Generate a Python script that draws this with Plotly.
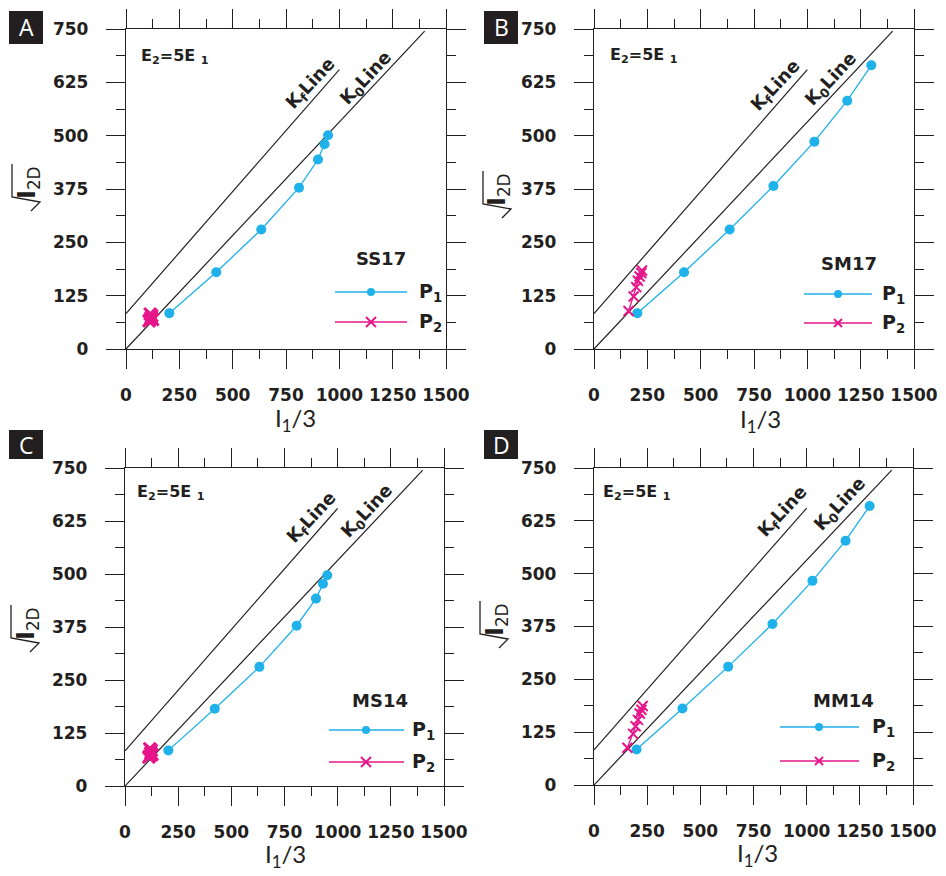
import plotly.graph_objects as go

# ---------------- data ----------------
panels = ["A", "B", "C", "D"]
samples = ["SS17", "SM17", "MS14", "MM14"]

p1_x = {
    "A": [203, 423, 634, 811, 900, 931, 947],
    "B": [203, 422, 636, 841, 1033, 1187, 1300],
    "C": [204, 422, 632, 807, 898, 931, 951],
    "D": [200, 416, 631, 839, 1027, 1183, 1296],
}
p1_y = {
    "A": [84, 180, 280, 378, 444, 480, 501],
    "B": [84, 180, 280, 382, 486, 582, 665],
    "C": [84, 182, 281, 378, 442, 477, 497],
    "D": [84, 181, 280, 381, 483, 578, 660],
}
p2_x = {
    "A": [108, 114, 118, 121, 113, 125],
    "B": [162, 186, 198, 206, 214, 222, 225],
    "C": [112, 118, 121, 124, 116, 127],
    "D": [157, 184, 196, 207, 215, 223, 229],
}
p2_y = {
    "A": [66, 70, 74, 78, 82, 69],
    "B": [89, 123, 145, 160, 170, 178, 184],
    "C": [68, 72, 78, 84, 88, 74],
    "D": [88, 121, 139, 154, 169, 178, 187],
}
kf_x = [0, 1000]
kf_y = [83, 655]
k0_x = [0, 1400]
k0_y = [0, 745]

x_ticks = [0, 250, 500, 750, 1000, 1250, 1500]
y_ticks = [0, 125, 250, 375, 500, 625, 750]

# ---------------- layout helpers ----------------
PAGE_W, PAGE_H = 946, 876
OFF = 8  # default page body margin
W, H = PAGE_W - 2 * OFF, PAGE_H - 2 * OFF
def px(x):
    return (x - OFF) / W
def py(y):
    return 1 - (y - OFF) / H

# frame pixel boxes in window coordinates (left, top, right, bottom)
frames = {
    "A": (126, 29, 446, 349),
    "B": (594, 29, 914, 349),
    "C": (125, 468, 444, 786),
    "D": (594, 468, 913, 785),
}
letter_boxes = {
    "A": (9, 11, 43, 44),
    "B": (484, 11, 518, 44),
    "C": (9, 430, 43, 459),
    "D": (484, 430, 518, 459),
}
# offsets relative to frame (left/top)
e2_off = {"A": (13, 27), "B": (14, 26), "C": (10, 24), "D": (7, 24)}
name_off = {"A": (255, 229), "B": (255, 234), "C": (255, 232), "D": (249, 232)}
leg_off = {  # line start, line end, marker x, text x, y1, y2
    "A": (209, 281, 245, 291, 263, 293),
    "B": (210, 278, 244, 286, 265, 294),
    "C": (204, 279, 241, 285, 262, 294),
    "D": (186, 265, 225, 276, 259, 293),
}
kf_off = {"A": (185, 55), "B": (182, 57), "C": (187, 50), "D": (189, 44)}
k0_off = {"A": (240, 50), "B": (237, 51), "C": (242, 44), "D": (246, 37)}
xt_off = {"A": (169, 70), "B": (166, 71), "C": (160, 69), "D": (163, 69)}
# radical anchor (vinculum x offset from frame left, vinculum bottom y offset from frame top)
rad_off = {"A": (-114, 168), "B": (-111, 175), "C": (-114, 170), "D": (-114, 166)}

CYAN = "#1EB1EA"
PINK = "#E6168A"
INK = "#231F20"
BOLD = dict(family="DejaVu Sans", size=17, color=INK, weight="bold")

fig = go.Figure()
annotations = []
shapes = []

for i, p in enumerate(panels):
    n = "" if i == 0 else str(i + 1)
    xa, ya = "x" + n, "y" + n
    l, t, r, b = frames[p]
    axis_common = dict(
        showgrid=False, zeroline=False, showline=True, linecolor=INK, linewidth=1.3,
        mirror="allticks", ticks="outside", ticklen=19, tickwidth=1.3, tickcolor=INK,
        tickfont=BOLD, fixedrange=True, automargin=False,
    )
    fig.layout["xaxis" + n] = dict(
        axis_common, domain=[px(l), px(r)], range=[0, 1500], anchor=ya,
        tickvals=x_ticks, ticktext=[str(v) for v in x_ticks], ticklabelstandoff=11,
        minor=dict(ticks="outside", ticklen=9, tickwidth=1.3, tickcolor=INK,
                   tickvals=[125, 375, 625, 875, 1125, 1375], showgrid=False),
    )
    fig.layout["yaxis" + n] = dict(
        axis_common, domain=[py(b), py(t)], range=[0, 750], anchor=xa,
        tickvals=y_ticks, ticktext=[str(v) for v in y_ticks], ticklabelstandoff=14,
        minor=dict(ticks="outside", ticklen=9, tickwidth=1.3, tickcolor=INK,
                   tickvals=[62.5, 187.5, 312.5, 437.5, 562.5, 687.5], showgrid=False),
    )
    # reference lines
    fig.add_trace(go.Scatter(x=kf_x, y=kf_y, mode="lines", line=dict(color=INK, width=1.2),
                             xaxis=xa, yaxis=ya, showlegend=False, hoverinfo="skip"))
    fig.add_trace(go.Scatter(x=k0_x, y=k0_y, mode="lines", line=dict(color=INK, width=1.2),
                             xaxis=xa, yaxis=ya, showlegend=False, hoverinfo="skip"))
    # data
    fig.add_trace(go.Scatter(x=p1_x[p], y=p1_y[p], mode="lines+markers",
                             line=dict(color=CYAN, width=1.3),
                             marker=dict(symbol="circle", size=10, color=CYAN),
                             xaxis=xa, yaxis=ya, showlegend=False, name="P1"))
    thick = p in ("A", "C")
    fig.add_trace(go.Scatter(x=p2_x[p], y=p2_y[p], mode="lines+markers" if not thick else "markers",
                             line=dict(color=PINK, width=1.3),
                             marker=dict(symbol="x-thin", size=12 if thick else 10,
                                         line=dict(color=PINK, width=3 if thick else 2)),
                             xaxis=xa, yaxis=ya, showlegend=False, name="P2"))

    # panel letter box
    bl, bt, br, bb = letter_boxes[p]
    shapes.append(dict(type="rect", xref="paper", yref="paper", x0=px(bl), x1=px(br),
                       y0=py(bb), y1=py(bt), fillcolor=INK, line=dict(width=0), layer="above"))
    annotations.append(dict(x=px((bl + br) / 2), y=py((bt + bb) / 2), xref="paper", yref="paper",
                            text=p, showarrow=False, xanchor="center", yanchor="middle",
                            font=dict(family="Open Sans", size=23, color="white")))
    # E2=5E1
    ox, oy = e2_off[p]
    annotations.append(dict(x=px(l + ox), y=py(t + oy), xref="paper", yref="paper",
                            text="E<sub>2</sub>=5E <sub>1</sub>", showarrow=False,
                            xanchor="left", yanchor="middle", font=dict(BOLD, size=16)))
    # sample name
    ox, oy = name_off[p]
    annotations.append(dict(x=px(l + ox), y=py(t + oy), xref="paper", yref="paper",
                            text=samples[i], showarrow=False, xanchor="center", yanchor="middle",
                            font=dict(BOLD, size=18)))
    # K lines labels
    ox, oy = kf_off[p]
    annotations.append(dict(x=px(l + ox), y=py(t + oy), xref="paper", yref="paper",
                            text="K<sub>f</sub>Line", showarrow=False, textangle=-47,
                            xanchor="center", yanchor="middle", font=dict(BOLD, size=18)))
    ox, oy = k0_off[p]
    annotations.append(dict(x=px(l + ox), y=py(t + oy), xref="paper", yref="paper",
                            text="K<sub>0</sub>Line", showarrow=False, textangle=-47,
                            xanchor="center", yanchor="middle", font=dict(BOLD, size=18)))
    # legend
    x0, x1, mx, tx, y1, y2 = leg_off[p]
    for (yy, col, lab, kind) in ((y1, CYAN, "P<sub>1</sub>", "o"), (y2, PINK, "P<sub>2</sub>", "x")):
        shapes.append(dict(type="line", xref="paper", yref="paper", x0=px(l + x0), x1=px(l + x1),
                           y0=py(t + yy), y1=py(t + yy), line=dict(color=col, width=1.5)))
        if kind == "o":
            rr = 4
            shapes.append(dict(type="circle", xref="paper", yref="paper",
                               x0=px(l + mx - rr), x1=px(l + mx + rr),
                               y0=py(t + yy + rr), y1=py(t + yy - rr),
                               fillcolor=col, line=dict(color=col, width=0)))
        else:
            rr = 5 if thick else 4
            for s in (1, -1):
                shapes.append(dict(type="line", xref="paper", yref="paper",
                                   x0=px(l + mx - rr), x1=px(l + mx + rr),
                                   y0=py(t + yy - s * rr), y1=py(t + yy + s * rr),
                                   line=dict(color=col, width=2)))
        annotations.append(dict(x=px(l + tx), y=py(t + yy), xref="paper", yref="paper",
                                text=lab, showarrow=False, xanchor="left", yanchor="middle",
                                font=dict(BOLD, size=19)))
    # x axis title
    ox, oy = xt_off[p]
    annotations.append(dict(x=px(l + ox), y=py(b + oy), xref="paper", yref="paper",
                            text="I<sub>1</sub>/3", showarrow=False, xanchor="center",
                            yanchor="middle", font=dict(family="Lato", size=24, color=INK)))
    # y axis title: radical sign drawn as a path, text rotated
    rx, ry = rad_off[p]
    vx, vy = l + rx, t + ry  # vinculum bottom (start of the radical)
    pts = [(vx, vy - 33), (vx, vy), (vx + 28, vy + 5), (vx + 19, vy + 14)]
    path = "M " + " L ".join(f"{px(a):.5f},{py(c):.5f}" for a, c in pts)
    shapes.append(dict(type="path", xref="paper", yref="paper", path=path,
                       line=dict(color=INK, width=1.3)))
    annotations.append(dict(x=px(vx + 16), y=py(vy - 14), xref="paper", yref="paper",
                            text="<b>I</b><sub>2D</sub>", showarrow=False, textangle=-90,
                            xanchor="center", yanchor="middle",
                            font=dict(family="DejaVu Sans", size=24, color=INK)))

fig.update_layout(
    width=W, height=H, margin=dict(l=0, r=0, t=0, b=0, autoexpand=False),
    paper_bgcolor="white", plot_bgcolor="white",
    annotations=annotations, shapes=shapes, showlegend=False,
)
fig.write_html("out.html")
